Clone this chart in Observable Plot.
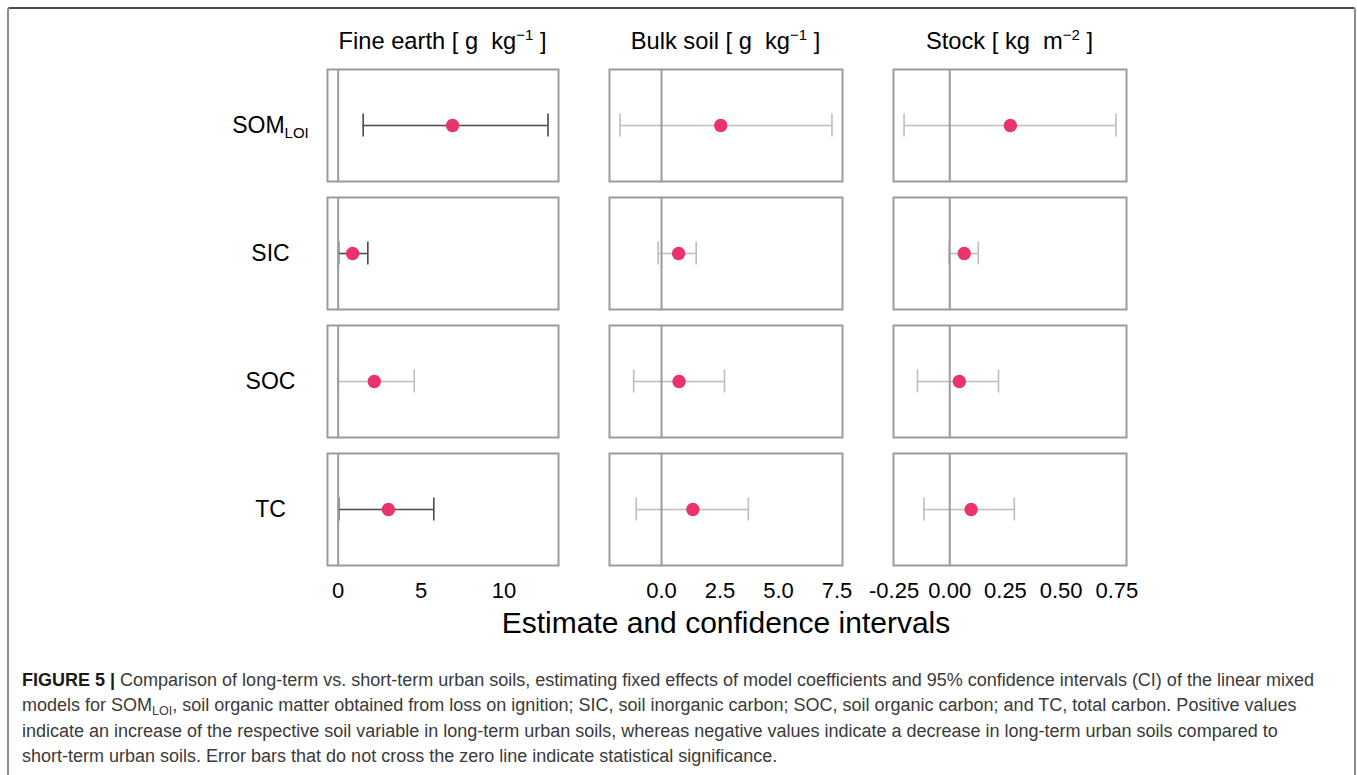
<!DOCTYPE html>
<html>
<head>
<meta charset="utf-8">
<script src="https://cdn.jsdelivr.net/npm/d3@7"></script>
<script src="https://cdn.jsdelivr.net/npm/@observablehq/plot@0.6"></script>
<style>
  body { margin: 0; background: #fff; font-family: "Liberation Sans", Arial, Helvetica, sans-serif; }
  #wrap { position: relative; width: 1357px; height: 775px; overflow: hidden; background: #fff; }
  #box { position: absolute; left: 7px; top: 7px; width: 1349px; height: 830px; box-sizing: border-box;
         border: 2px solid #8c8c8c; border-top-color: #4a4a4a; border-radius: 3px; }
  .title { position: absolute; top: 30px; line-height: 23px; font-size: 23.7px; text-align: center; color: #000; white-space: nowrap; }
  .sup { position: relative; top: -9px; font-size: 15px; }
  .col { position: absolute; top: 67px; }
  #xtitle { position: absolute; top: 608px; left: 326px; width: 800px; text-align: center; font-size: 30px; line-height: 30px; color: #000; }
  #cap { position: absolute; left: 22px; top: 668px; font-size: 18px; line-height: 25.3px; color: #3a3a3a; white-space: nowrap; }
  #cap b { color: #1a1a1a; }
  #cap sub { font-size: 12.5px; vertical-align: -4px; line-height: 0; }
</style>
</head>
<body>
<div id="wrap">
  <div id="box"></div>
  <div class="title" id="t1"></div>
  <div class="title" id="t2"></div>
  <div class="title" id="t3"></div>
  <div class="col" id="c1"></div>
  <div class="col" id="c2"></div>
  <div class="col" id="c3"></div>
  <div id="xtitle">Estimate and confidence intervals</div>
  <div id="cap"><b>FIGURE 5 |</b> Comparison of long-term vs. short-term urban soils, estimating fixed effects of model coefficients and 95% confidence intervals (CI) of the linear mixed<br>models for SOM<sub>LOI</sub>, soil organic matter obtained from loss on ignition; SIC, soil inorganic carbon; SOC, soil organic carbon; and TC, total carbon. Positive values<br>indicate an increase of the respective soil variable in long-term urban soils, whereas negative values indicate a decrease in long-term urban soils compared to<br>short-term urban soils. Error bars that do not cross the zero line indicate statistical significance.</div>
</div>
<script>
// ---- data ----
const variables = ["SOM_LOI", "SIC", "SOC", "TC"];

const fineEst = [6.90, 0.87, 2.18, 3.03];
const fineLo  = [1.51, 0.03, -0.01, 0.04];
const fineHi  = [12.66, 1.79, 4.59, 5.77];

const bulkEst = [2.53, 0.73, 0.75, 1.34];
const bulkLo  = [-1.77, -0.145, -1.19, -1.08];
const bulkHi  = [7.28, 1.48, 2.69, 3.71];

const stockEst = [0.272, 0.065, 0.043, 0.096];
const stockLo  = [-0.205, -0.003, -0.145, -0.116];
const stockHi  = [0.746, 0.128, 0.219, 0.290];

const titleNames = ["Fine earth [ g&nbsp; kg", "Bulk soil [ g&nbsp; kg", "Stock [ kg&nbsp; m"];
const titleExps  = ["\u22121", "\u22121", "\u22122"];

const ticks1 = [0, 5, 10];
const ticks2 = [0, 2.5, 5, 7.5];
const ticks3 = [-0.25, 0, 0.25, 0.5, 0.75];

// ---- layout ----
const cols = [
  {id: "c1", t: "t1", est: fineEst, lo: fineLo, hi: fineHi, ticks: ticks1, fmt: d => String(d), panelLeft: 327, panelWidth: 231, svgLeft: 200, svgRight: 580, labels: true},
  {id: "c2", t: "t2", est: bulkEst, lo: bulkLo, hi: bulkHi, ticks: ticks2, fmt: d => d.toFixed(1), panelLeft: 609, panelWidth: 233, svgLeft: 582, svgRight: 864, labels: false},
  {id: "c3", t: "t3", est: stockEst, lo: stockLo, hi: stockHi, ticks: ticks3, fmt: d => d.toFixed(2), panelLeft: 893, panelWidth: 233, svgLeft: 866, svgRight: 1150, labels: false}
];

const darkBar = "#4a4a4a", lightBar = "#bdbdbd", lineGrey = "#9b9b9b", dotColor = "#E9336A";

cols.forEach((c, ci) => {
  const data = variables.map((v, i) => ({v, est: c.est[i], lo: c.lo[i], hi: c.hi[i], sig: c.lo[i] > 0 || c.hi[i] < 0}));
  const ext = d3.extent([0, ...c.lo, ...c.hi]);
  const pad = (ext[1] - ext[0]) * 0.05;
  const marginLeft = c.panelLeft - c.svgLeft;
  const marginRight = c.svgRight - (c.panelLeft + c.panelWidth);
  const barColor = d => d.sig ? darkBar : lightBar;
  const marks = [
    Plot.ruleY(data, {fy: "v", y: () => 0, x1: "lo", x2: "hi", stroke: barColor, strokeWidth: 1.6}),
    Plot.ruleX(data, {fy: "v", x: "lo", y1: () => -0.205, y2: () => 0.205, stroke: barColor, strokeWidth: 1.6}),
    Plot.ruleX(data, {fy: "v", x: "hi", y1: () => -0.205, y2: () => 0.205, stroke: barColor, strokeWidth: 1.6}),
    Plot.ruleX([0], {stroke: lineGrey, strokeWidth: 2}),
    Plot.frame({stroke: lineGrey, strokeWidth: 2}),
    Plot.dot(data, {fy: "v", x: "est", y: () => 0, r: 6.7, fill: dotColor, stroke: "none"}),
    Plot.axisX({ticks: c.ticks, tickFormat: c.fmt, tickSize: 0, tickPadding: 17, fontSize: 22, label: null, fill: "#000"})
  ];
  if (c.labels) {
    marks.push(Plot.text(data, {fy: "v", text: "v", frameAnchor: "left", dx: -57, textAnchor: "middle", fontSize: 23, fill: "#000"}));
  }
  const svg = Plot.plot({
    width: c.svgRight - c.svgLeft,
    height: 2 + 496 + 45,
    marginTop: 2,
    marginBottom: 45,
    marginLeft, marginRight,
    style: {fontFamily: "'Liberation Sans', Arial, sans-serif", background: "transparent", color: "#000", overflow: "visible"},
    x: {domain: [ext[0] - pad, ext[1] + pad]},
    y: {domain: [-1, 1], axis: null},
    fy: {domain: variables, paddingInner: 0.125, paddingOuter: 0, axis: null},
    color: {type: "identity"},
    marks
  });
  // subscript for SOM_LOI
  svg.querySelectorAll("text").forEach(t => {
    if (t.textContent === "SOM_LOI") {
      t.textContent = "SOM";
      const ts = document.createElementNS("http://www.w3.org/2000/svg", "tspan");
      ts.setAttribute("font-size", "15");
      ts.setAttribute("dy", "5");
      ts.textContent = "LOI";
      t.appendChild(ts);
    }
  });
  const holder = document.getElementById(c.id);
  holder.style.left = c.svgLeft + "px";
  holder.appendChild(svg);

  const t = document.getElementById(c.t);
  t.style.left = c.panelLeft + "px";
  t.style.width = c.panelWidth + "px";
  t.innerHTML = titleNames[ci] + '<span class="sup">' + titleExps[ci] + '</span> ]';
});
</script>
</body>
</html>
